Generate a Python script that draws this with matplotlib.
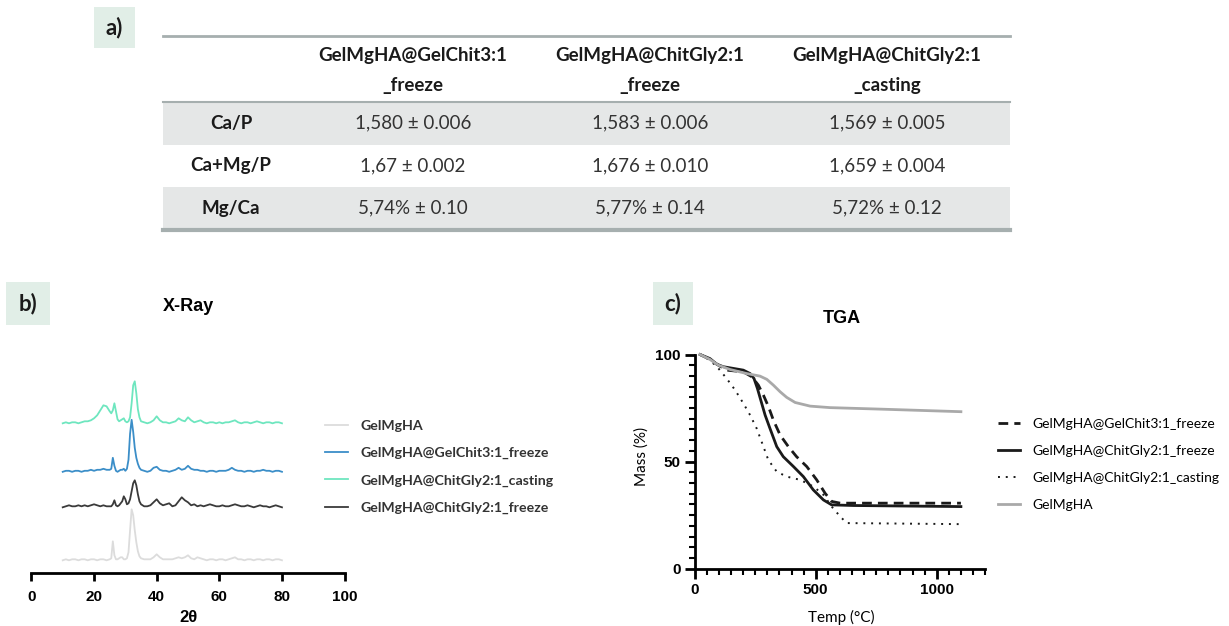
import matplotlib.pyplot as plt
from matplotlib.patches import Rectangle
from matplotlib.ticker import MultipleLocator

# ---------------- data ----------------
# a) table
col_headers = ['GelMgHA@GelChit3:1', 'GelMgHA@ChitGly2:1', 'GelMgHA@ChitGly2:1']
col_suffix = ['_freeze', '_freeze', '_casting']
row_labels = ['Ca/P', 'Ca+Mg/P', 'Mg/Ca']
ca_p = ['1,580 ± 0.006', '1,583 ± 0.006', '1,569 ± 0.005']
camg_p = ['1,67 ± 0.002', '1,676 ± 0.010', '1,659 ± 0.004']
mg_ca = ['5,74% ± 0.10', '5,77% ± 0.14', '5,72% ± 0.12']

# b) X-ray (2theta, intensity a.u. above each trace's own baseline)
two_theta = [10, 11, 12, 13, 14, 15, 16, 17, 18, 19, 20, 21, 22, 23, 24, 25,
             25.5, 26, 26.5, 27, 27.5, 28, 28.5, 29, 29.5, 30, 30.5, 31, 31.5, 32, 32.5, 33, 33.5, 34, 34.5, 35,
             36, 37, 38, 39, 40, 41, 42, 43, 44, 45, 46, 47, 48, 49, 50, 51, 52, 53, 54, 55, 56, 57, 58,
             59, 60, 61, 62, 63, 64, 65, 66, 67, 68, 69, 70, 71, 72, 73, 74, 75, 76, 77, 78, 79, 80]
xrd_gelmgha = [0, 1, 0, 1, 1, 0, 1, 1, 0, 1, 1, 0, 1, 1, 0, 1,
               2, 19, 5, 1, 1, 2, 3, 3, 1, 1, 2, 8, 30, 51, 45, 30, 18, 9, 4, 2,
               1, 1, 1, 3, 6, 3, 1, 1, 1, 1, 2, 3, 2, 3, 5, 2, 1, 3, 2, 1, 0, 1, 1,
               0, 1, 1, 0, 1, 2, 3, 1, 1, 0, 1, 1, 0, 1, 1, 0, 1, 1, 0, 1, 1, 0]
xrd_gelchit_freeze = [0, 1, 1, 0, 1, 1, 0, 1, 1, 2, 1, 2, 2, 3, 2, 2,
                      3, 14, 6, 1, 0, 1, 2, 2, 3, 1, 3, 12, 38, 52, 40, 24, 14, 8, 4, 2,
                      1, 0, 1, 4, 5, 2, 1, 1, 0, 1, 2, 4, 2, 3, 6, 3, 2, 2, 1, 1, 0, 1, 1,
                      0, 1, 1, 1, 2, 4, 2, 1, 1, 0, 1, 1, 0, 1, 1, 2, 1, 1, 0, 1, 1, 0]
xrd_chitgly_casting = [0, 1, 0, 1, 1, 0, 1, 2, 2, 3, 5, 8, 13, 18, 17, 12,
                       10, 13, 20, 12, 4, 2, 3, 4, 5, 2, 1, 2, 6, 20, 38, 42, 30, 14, 6, 2,
                       1, 0, 1, 3, 7, 3, 1, 1, 0, 1, 2, 5, 3, 2, 6, 3, 1, 2, 3, 1, 0, 1, 1,
                       0, 1, 0, 1, 1, 2, 3, 1, 0, 1, 1, 0, 1, 2, 1, 0, 1, 1, 0, 1, 1, 0]
xrd_chitgly_freeze = [0, 1, 2, 1, 1, 2, 1, 2, 1, 2, 3, 2, 1, 2, 1, 1,
                      1, 3, 7, 2, 1, 2, 4, 6, 11, 8, 3, 4, 8, 16, 24, 27, 22, 13, 6, 3,
                      1, 1, 2, 5, 8, 4, 2, 3, 4, 1, 2, 6, 10, 7, 5, 2, 3, 1, 2, 1, 2, 3, 2,
                      1, 1, 2, 1, 1, 2, 3, 2, 1, 1, 2, 1, 0, 1, 2, 1, 1, 0, 1, 2, 1, 0]
xrd_ticks = [0, 20, 40, 60, 80, 100]

# c) TGA
tga_t_gelchit = [22, 63, 98, 132, 201, 236, 263, 284, 305, 325, 353, 387, 421, 463, 504, 539, 566, 601, 1100]
tga_m_gelchit = [100, 97.7, 95, 92.7, 91.9, 89.6, 85.7, 81, 75.6, 69.4, 62.4, 57, 52.3, 47.7, 41.5, 35.2, 31.4, 30.6, 30.6]
tga_t_chitgly = [22, 63, 91, 118, 160, 201, 229, 245, 259, 273, 291, 311, 339, 366, 408, 449, 490, 532, 566, 656, 1100]
tga_m_chitgly = [100, 98.1, 95.5, 94.3, 93.5, 92.7, 91.1, 88.8, 84.2, 78.7, 71.7, 65.5, 57, 52.3, 47.7, 43, 36.8, 32.1, 29.8, 29.5, 29.0]
tga_t_casting = [22, 63, 98, 132, 167, 201, 229, 256, 284, 304, 339, 380, 435, 490, 532, 566, 601, 628, 1100]
tga_m_casting = [100, 97.4, 93.5, 88.8, 83.4, 77.2, 71.7, 65.5, 57, 50.8, 45.3, 43, 41.5, 38.4, 34.5, 29, 24.4, 21.3, 20.8]
tga_t_gelmgha = [22, 63, 98, 146, 215, 270, 298, 325, 353, 380, 415, 477, 559, 766, 1100]
tga_m_gelmgha = [100, 97.7, 95, 93, 91.1, 89.9, 88.4, 85.7, 82.6, 80, 77.6, 75.9, 75.2, 74.5, 73.3]

# ---------------- style ----------------
W, H = 1229, 626
TXT = ['Lato', 'DejaVu Sans']
ARIAL = ['Liberation Sans', 'DejaVu Sans']
box_col = '#e1eee7'
line_col = '#a6afaf'
shade_col = '#e5e7e7'

fig = plt.figure(figsize=(W / 100, H / 100), dpi=100)

# overlay in pixel coords for the table and the panel tags
ax0 = fig.add_axes([0, 0, 1, 1])
ax0.set_xlim(0, W)
ax0.set_ylim(H, 0)
ax0.axis('off')

def tag(x0, y0, w, h, s):
	ax0.add_patch(Rectangle((x0, y0), w, h, color=box_col, lw=0))
	ax0.text(x0 + w / 2, y0 + h / 2, s, ha='center', va='center', fontsize=16,
			 fontweight='bold', family=TXT, color='#1a1a1a')

tag(94, 7, 41, 41, 'a)')
tag(6, 282, 44, 43, 'b)')
tag(653, 282, 40, 43, 'c)')

# ---- table a)
tab_l, tab_r = 163, 1010
y_top, y_head, row_h = 36, 102, 42.5
col_x = [231, 413, 650, 887]
ax0.plot([tab_l, tab_r], [y_top, y_top], color=line_col, lw=2)
for j in range(3):
	ax0.text(col_x[j + 1], 56, col_headers[j], ha='center', va='center', fontsize=13.5,
			 fontweight='bold', family=TXT, color='#1a1a1a')
	ax0.text(col_x[j + 1], 85.5, col_suffix[j], ha='center', va='center', fontsize=13.5,
			 fontweight='bold', family=TXT, color='#1a1a1a')
rows = [ca_p, camg_p, mg_ca]
for i, lab in enumerate(row_labels):
	y0 = y_head + i * row_h
	if i % 2 == 0:
		ax0.add_patch(Rectangle((tab_l, y0), tab_r - tab_l, row_h, color=shade_col, lw=0))
	ax0.text(col_x[0], y0 + row_h / 2, lab, ha='center', va='center', fontsize=13.5,
			 fontweight='bold', family=TXT, color='#1a1a1a')
	for j, v in enumerate(rows[i]):
		ax0.text(col_x[j + 1], y0 + row_h / 2, v, ha='center', va='center', fontsize=13.5,
				 family=TXT, color='#333333')
ax0.plot([tab_l, tab_r], [y_head, y_head], color=line_col, lw=1.5)
y_bot = y_head + 3 * row_h
ax0.plot([tab_l, tab_r], [y_bot, y_bot], color=line_col, lw=3)

# ---- b) X-ray
axb = fig.add_axes([31.4 / W, (H - 573.3) / H, 313.2 / W, 200 / H])
xrd_series = [
	(xrd_gelmgha, 'GelMgHA', '#dcdcdc', 13),
	(xrd_gelchit_freeze, 'GelMgHA@GelChit3:1_freeze', '#3b8ec8', 101.5),
	(xrd_chitgly_casting, 'GelMgHA@ChitGly2:1_casting', '#6ee6bf', 150),
	(xrd_chitgly_freeze, 'GelMgHA@ChitGly2:1_freeze', '#3a3a3a', 66),
]
for vals, name, c, off in xrd_series:
	axb.plot(two_theta, [v + off for v in vals], color=c, lw=1.3, label=name)
axb.set_xlim(0, 100)
axb.set_ylim(0, 200)
for s in ['left', 'top', 'right']:
	axb.spines[s].set_visible(False)
axb.spines['bottom'].set_linewidth(2)
axb.set_yticks([])
axb.set_xticks(xrd_ticks)
axb.set_xticklabels([str(t) for t in xrd_ticks], fontsize=11, fontweight='bold', family=ARIAL)
axb.tick_params(axis='x', length=6, width=2, pad=6)
axb.set_xlabel('2θ', fontsize=12, fontweight='bold', family=ARIAL)
axb.xaxis.set_label_coords(0.5, -0.2235)
axb.xaxis.label.set_va('center')
axb.text(0.5, 1.333, 'X-Ray', transform=axb.transAxes, ha='center', va='center',
		 fontsize=13, fontweight='bold', family=ARIAL)
leg = axb.legend(loc='upper left', bbox_to_anchor=(325 / W, (H - 420) / H), bbox_transform=fig.transFigure,
				 frameon=False, borderpad=0, borderaxespad=0, handlelength=1.6, handletextpad=0.9,
				 labelspacing=1.06, prop={'family': TXT, 'weight': 'bold', 'size': 10.2})
for t in leg.get_texts():
	t.set_color('#333333')

# ---- c) TGA
axc = fig.add_axes([694.7 / W, (H - 568.7) / H, 290.4 / W, 214.2 / H])
axc.plot(tga_t_gelchit, tga_m_gelchit, color='#1a1a1a', lw=2, ls=(0, (3.5, 2.2)),
		 label='GelMgHA@GelChit3:1_freeze', clip_on=False)
axc.plot(tga_t_chitgly, tga_m_chitgly, color='#1a1a1a', lw=2,
		 label='GelMgHA@ChitGly2:1_freeze', clip_on=False)
axc.plot(tga_t_casting, tga_m_casting, color='#1a1a1a', lw=1.4, ls=(0, (1, 3)),
		 label='GelMgHA@ChitGly2:1_casting', clip_on=False)
axc.plot(tga_t_gelmgha, tga_m_gelmgha, color='#a9a9a9', lw=2,
		 label='GelMgHA', clip_on=False)
axc.set_xlim(0, 1200)
axc.set_ylim(0, 100)
for s in ['top', 'right']:
	axc.spines[s].set_visible(False)
for s in ['left', 'bottom']:
	axc.spines[s].set_linewidth(2)
axc.set_xticks([0, 500, 1000])
axc.set_yticks([0, 50, 100])
axc.xaxis.set_minor_locator(MultipleLocator(50))
axc.yaxis.set_minor_locator(MultipleLocator(5))
axc.set_xticklabels(['0', '500', '1000'], fontsize=11, fontweight='bold', family=ARIAL)
axc.set_yticklabels(['0', '50', '100'], fontsize=11, fontweight='bold', family=ARIAL)
axc.tick_params(which='major', length=7, width=2, pad=3)
axc.tick_params(which='minor', length=4, width=1.5)
axc.set_xlabel('Temp (°C)', fontsize=11, family=TXT)
axc.xaxis.set_label_coords(0.505, -0.23)
axc.xaxis.label.set_va('center')
axc.set_ylabel('Mass (%)', fontsize=11, family=TXT)
axc.yaxis.set_label_coords(-0.1835, 0.523)
axc.yaxis.label.set_va('center')
axc.text(0.505, 1.17, 'TGA', transform=axc.transAxes, ha='center', va='center',
		 fontsize=13, fontweight='bold', family=ARIAL)
axc.legend(loc='upper left', bbox_to_anchor=(998 / W, (H - 418) / H), bbox_transform=fig.transFigure,
		   frameon=False, borderpad=0, borderaxespad=0, handlelength=1.6, handletextpad=0.9,
		   labelspacing=1.07, prop={'family': TXT, 'size': 10})

fig.savefig('out.png', dpi=100)
